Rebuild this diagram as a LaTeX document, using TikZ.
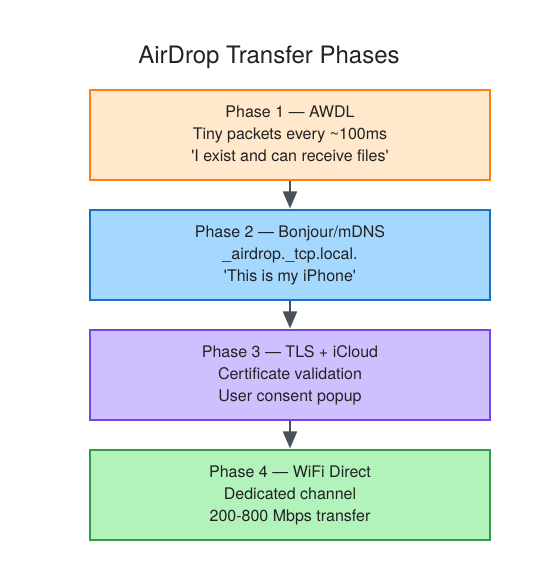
\documentclass[tikz,border=0pt]{standalone}
\usepackage{fontspec}
\setmainfont{TeX Gyre Heros}
\usetikzlibrary{arrows.meta}
\definecolor{txt}{HTML}{222222}
\definecolor{arr}{HTML}{495057}
\definecolor{f1}{HTML}{FFE8CC}\definecolor{d1}{HTML}{FD7E14}
\definecolor{f2}{HTML}{A5D8FF}\definecolor{d2}{HTML}{1971C2}
\definecolor{f3}{HTML}{D0BFFF}\definecolor{d3}{HTML}{7048E8}
\definecolor{f4}{HTML}{B2F2BB}\definecolor{d4}{HTML}{2F9E44}
\newcommand{\sq}{\textquotesingle}
\begin{document}
\begin{tikzpicture}[x=1pt,y=-1pt,
  phase/.style={draw=#1, line width=1.6pt, minimum width=400pt, minimum height=90pt,
    inner sep=0pt, align=center, text=txt, font=\fontsize{16}{22}\selectfont},
  flow/.style={draw=arr, line width=2pt, -{Triangle[width=14pt,length=17pt]}, shorten >=0.8pt}]
\useasboundingbox (0,0) rectangle (540,580);
\fill[white] (0,0) rectangle (540,580);
\node[anchor=base, text=txt, font=\fontsize{24}{28}\selectfont] (title) at (269,64) {AirDrop Transfer Phases};
\node[phase=d1, fill=f1] (p1) at (290,135) {\strut Phase 1 — AWDL\\ Tiny packets every \textasciitilde100ms\\ \sq I exist and can receive files\sq\strut};
\node[phase=d2, fill=f2] (p2) at (290,255) {\strut Phase 2 — Bonjour/mDNS\\ \_airdrop.\_tcp.local.\\ \sq This is my iPhone\sq\strut};
\node[phase=d3, fill=f3] (p3) at (290,375) {\strut Phase 3 — TLS + iCloud\\ Certificate validation\\ User consent popup\strut};
\node[phase=d4, fill=f4] (p4) at (290,495) {\strut Phase 4 — WiFi Direct\\ Dedicated channel\\ 200-800 Mbps transfer\strut};
\draw[flow] (p1) -- (p2);
\draw[flow] (p2) -- (p3);
\draw[flow] (p3) -- (p4);
\end{tikzpicture}
\end{document}
